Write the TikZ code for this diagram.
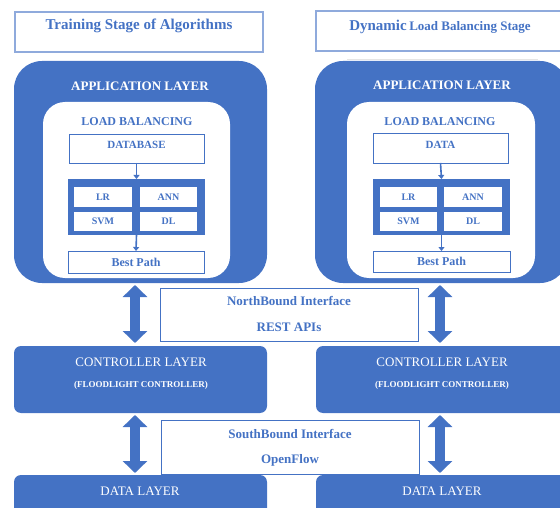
\documentclass[tikz,border=0pt]{standalone}
\usepackage{fontspec}
\setmainfont{Liberation Serif}
\usetikzlibrary{arrows.meta,calc,fit}
\definecolor{layerblue}{HTML}{4472C4}
\definecolor{titleedge}{HTML}{8FAADC}
\newcommand\setfs[1]{\fontsize{#1}{#1}\selectfont}
\begin{document}
\begin{tikzpicture}[x=1pt,y=-1pt,
  box/.style={inner sep=0pt,outer sep=0pt},
  titlebox/.style={box,draw=titleedge,line width=1.4pt},
  outerapp/.style={box,fill=layerblue,rounded corners=28pt},
  innerwhite/.style={box,fill=white,rounded corners=22pt},
  outlinebox/.style={box,fill=white,draw=layerblue,line width=0.8pt},
  algobox/.style={box,fill=layerblue},
  cellbox/.style={box,fill=white},
  celltext/.style={text=layerblue,font=\setfs{10}\bfseries,inner sep=0pt},
  ifacebox/.style={box,fill=white,draw=layerblue,line width=0.9pt},
  layerbox/.style={box,fill=layerblue,rounded corners=7pt},
  bluetext/.style={text=layerblue,font=\bfseries,inner sep=0pt},
  whitetext/.style={text=white,inner sep=0pt},
  fatarrow/.style={layerblue,line width=10pt,
    {Triangle[width=24pt,length=12pt]}-{Triangle[width=24pt,length=12pt]}},
  smallarrow/.style={layerblue,line width=1.6pt,-{Triangle[width=6pt,length=4pt]}}
]
\useasboundingbox (0,0) rectangle (560,508);
\clip (0,0) rectangle (560,508);

% stage titles
\node[titlebox,fit={(15,12) (263,52)}] (titleL) {};
\node[bluetext,font=\setfs{15}\bfseries] (titleLtxt) at (139,26) {Training Stage of Algorithms};
\node[titlebox,fit={(316,11) (575,51)}] (titleR) {};
\node[bluetext,anchor=base] (titleRtxt) at (440,31)
  {{\setfs{15}\bfseries Dynamic} {\setfs{13}\bfseries Load Balancing Stage}};
\draw[gray!20,line width=0.6pt] (347,59) -- (538,59);

% column axes for the interface arrows
\coordinate (colL) at (135,0);
\coordinate (colR) at (440,0);

% ---------- application layer, training side ----------
\node[outerapp,fit={(14,61) (267,283)}] (appL) {};
\node[innerwhite,fit={(43,102) (230,278)}] (lbL) {};
\node[whitetext,font=\setfs{13}\bfseries] (appLtxt) at (140,86) {APPLICATION LAYER};
\node[bluetext,font=\setfs{12}\bfseries] (lbLtxt) at (137,122) {LOAD BALANCING};
\node[outlinebox,fit={(69,134) (204,163)}] (dbL) {};
\node[bluetext,font=\setfs{11}\bfseries] (dbLtxt) at (136.5,145) {DATABASE};
\node[algobox,fit={(68,179) (205,235)}] (algL) {};
\node[cellbox,fit={(74,187) (132,207)}] (lrL) {};
\node[cellbox,fit={(140,187) (197,207)}] (annL) {};
\node[cellbox,fit={(74,212) (132,231)}] (svmL) {};
\node[cellbox,fit={(140,212) (197,231)}] (dlL) {};
\node[celltext] at (lrL) {LR};
\node[celltext] at (annL) {ANN};
\node[celltext] at (svmL) {SVM};
\node[celltext] at (dlL) {DL};
\node[outlinebox,fit={(68,251) (204,273)}] (bestL) {};
\node[bluetext,font=\setfs{12}\bfseries] (bestLtxt) at (bestL) {Best Path};
\draw[smallarrow] (dbL.south) -- (algL.north);
\draw[smallarrow] (algL.south) -- (bestL.north);

% ---------- application layer, dynamic side ----------
\node[outerapp,fit={(315,61) (568,283)}] (appR) {};
\node[innerwhite,fit={(347,102) (535,278)}] (lbR) {};
\node[whitetext,font=\setfs{13}\bfseries] (appRtxt) at (442,85) {APPLICATION LAYER};
\node[bluetext,font=\setfs{12}\bfseries] (lbRtxt) at (440,122) {LOAD BALANCING};
\node[outlinebox,fit={(373,133) (508,163)}] (dbR) {};
\node[bluetext,font=\setfs{11}\bfseries] (dbRtxt) at (440.5,145) {DATA};
\node[algobox,fit={(373,179) (510,235)}] (algR) {};
\node[cellbox,fit={(380,187) (437,207)}] (lrR) {};
\node[cellbox,fit={(444,187) (502,207)}] (annR) {};
\node[cellbox,fit={(380,212) (437,231)}] (svmR) {};
\node[cellbox,fit={(444,212) (502,231)}] (dlR) {};
\node[celltext] at (lrR) {LR};
\node[celltext] at (annR) {ANN};
\node[celltext] at (svmR) {SVM};
\node[celltext] at (dlR) {DL};
\node[outlinebox,fit={(373,251) (510,272)}] (bestR) {};
\node[bluetext,font=\setfs{12}\bfseries] (bestRtxt) at (bestR) {Best Path};
\draw[smallarrow] (dbR.south) -- (algR.north);
\draw[smallarrow] (algR.south) -- (bestR.north);

% ---------- northbound interface ----------
\node[ifacebox,fit={(160,288) (418,341)}] (nbi) {};
\node[bluetext,font=\setfs{13}\bfseries] (nbiA) at (289,301) {NorthBound Interface};
\node[bluetext,font=\setfs{13}\bfseries] (nbiB) at (289,327) {REST APIs};

% ---------- controller layer ----------
\node[layerbox,fit={(14,346) (267,413)}] (ctrlL) {};
\node[whitetext,font=\setfs{13}] (ctrlLa) at (141,362) {CONTROLLER LAYER};
\node[whitetext,font=\setfs{9}\bfseries] (ctrlLb) at (141,385) {(FLOODLIGHT CONTROLLER)};
\node[layerbox,fit={(316,346) (575,413)}] (ctrlR) {};
\node[whitetext,font=\setfs{13}] (ctrlRa) at (442,362) {CONTROLLER LAYER};
\node[whitetext,font=\setfs{9}\bfseries] (ctrlRb) at (442,385) {(FLOODLIGHT CONTROLLER)};

% ---------- southbound interface ----------
\node[ifacebox,fit={(161,420) (419,474)}] (sbi) {};
\node[bluetext,font=\setfs{13}\bfseries] (sbiA) at (290,434) {SouthBound Interface};
\node[bluetext,font=\setfs{13}\bfseries] (sbiB) at (290,460) {OpenFlow};

% ---------- data layer ----------
\node[layerbox,fit={(14,475) (267,525)}] (dataL) {};
\node[whitetext,font=\setfs{13}] (dataLtxt) at (140,491) {DATA LAYER};
\node[layerbox,fit={(316,475) (575,525)}] (dataR) {};
\node[whitetext,font=\setfs{13}] (dataRtxt) at (442,491) {DATA LAYER};

% interface arrows between the layers
\draw[fatarrow] ($(appL.south -| colL)+(0,2)$) -- ($(ctrlL.north -| colL)+(0,-3)$);
\draw[fatarrow] ($(appR.south -| colR)+(0,2)$) -- ($(ctrlR.north -| colR)+(0,-3)$);
\draw[fatarrow] ($(ctrlL.south -| colL)+(0,2)$) -- ($(dataL.north -| colL)+(0,-2)$);
\draw[fatarrow] ($(ctrlR.south -| colR)+(0,2)$) -- ($(dataR.north -| colR)+(0,-2)$);
\end{tikzpicture}
\end{document}
